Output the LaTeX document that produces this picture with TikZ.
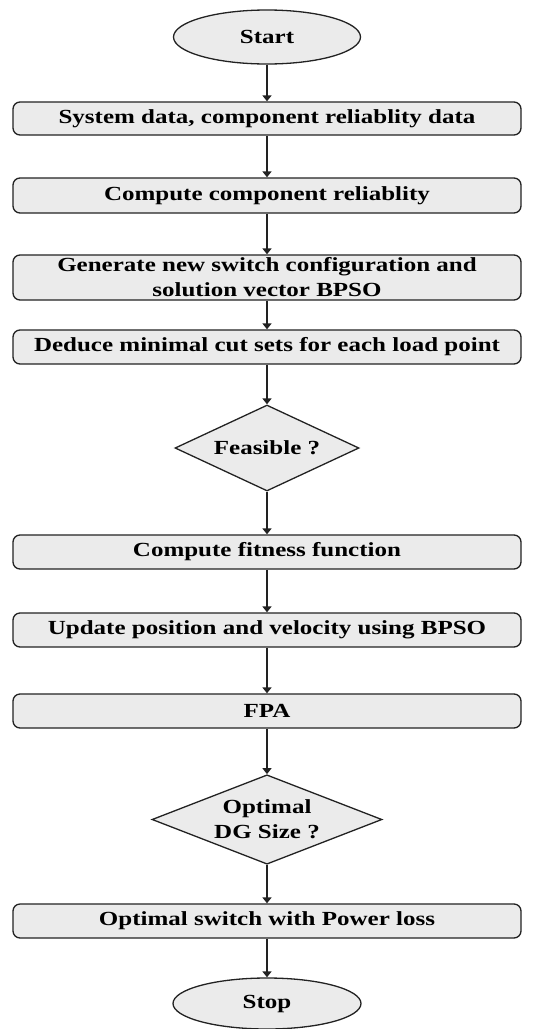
\documentclass[tikz,border=0pt]{standalone}
\usepackage{fontspec}
\newfontfamily\ff{Liberation Serif}[FakeStretch=1.25]
\usetikzlibrary{shapes.geometric,arrows.meta}
\definecolor{boxfill}{HTML}{EBEBEB}
\definecolor{edge}{HTML}{222222}
\begin{document}
\begin{tikzpicture}[x=1pt,y=-1pt,
  base/.style={draw=edge, line width=1.3pt, fill=boxfill, font=\ff\bfseries\fontsize{20}{25}\selectfont, align=center, inner sep=0pt},
  procbox/.style={base, rectangle, rounded corners=7pt, minimum width=508pt},
  term/.style={base, ellipse, minimum width=187pt, minimum height=54pt},
  decision/.style={base, diamond, aspect=2.1},
  flow/.style={draw=edge, line width=1.8pt, -{Triangle[length=6pt,width=9pt]}}
]
\useasboundingbox (0,0) rectangle (542,1029);
\node[term] (start) at (267,37) {Start};
\node[procbox, minimum height=33pt] (b1) at (267,118.5) {System data, component reliablity data};
\node[procbox, minimum height=35pt] (b2) at (267,195.5) {Compute component reliablity};
\node[procbox, minimum height=45pt] (b3) at (267,277.5) {Generate new switch configuration and\\solution vector BPSO};
\node[procbox, minimum height=34pt] (b4) at (267,347) {Deduce minimal cut sets for each load point};
\node[decision, minimum width=184pt, minimum height=86pt] (d1) at (267,448) {Feasible ?};
\node[procbox, minimum height=34pt] (b5) at (267,552) {Compute fitness function};
\node[procbox, minimum height=34pt] (b6) at (267,630) {Update position and velocity using BPSO};
\node[procbox, minimum height=34pt] (b7) at (267,711) {FPA};
\node[decision, minimum width=230pt, minimum height=87pt] (d2) at (267,819.5) {Optimal\\DG Size ?};
\node[procbox, minimum height=34pt] (b8) at (267,921) {Optimal switch with Power loss};
\node[term, minimum width=188pt, minimum height=51pt] (stop) at (267,1003.5) {Stop};
\foreach \a/\b in {start/b1,b1/b2,b2/b3,b3/b4,b4/d1,d1/b5,b5/b6,b6/b7,b7/d2,d2/b8,b8/stop}
  \draw[flow] (\a) -- (\b);
\end{tikzpicture}
\end{document}
